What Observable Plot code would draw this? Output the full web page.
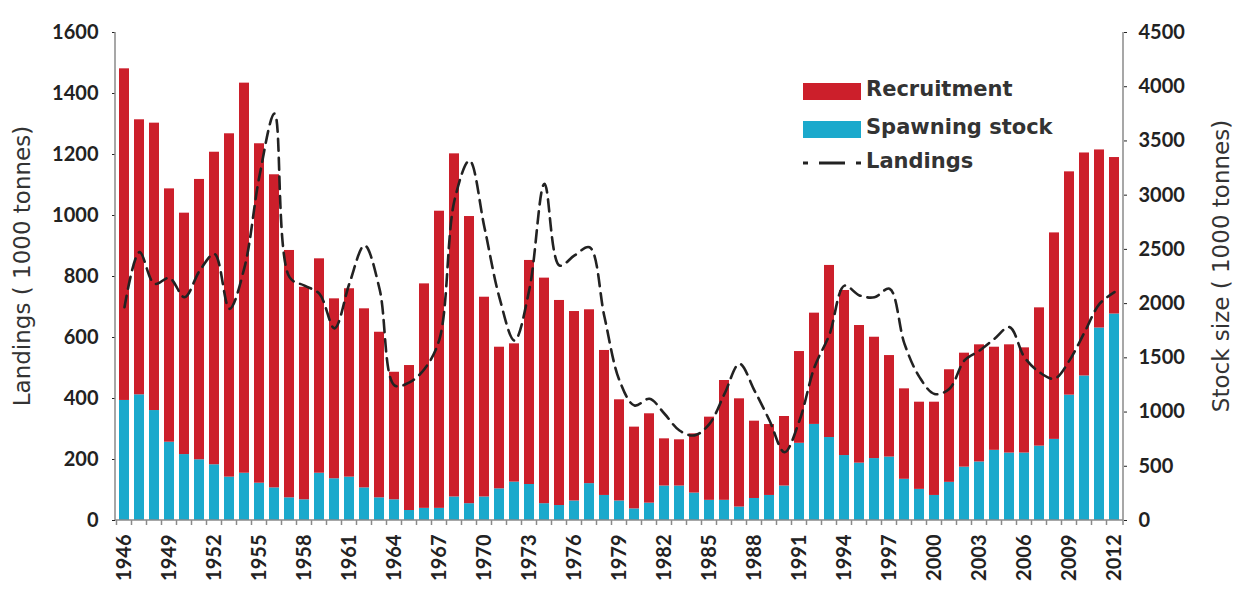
<!DOCTYPE html>
<html><head><meta charset="utf-8">
<script src="https://cdn.jsdelivr.net/npm/d3@7"></script>
<script src="https://cdn.jsdelivr.net/npm/@observablehq/plot@0.6"></script>
<style>
body{margin:0;background:#fff;}
#wrap{position:relative;width:1238px;height:589px;overflow:hidden;}
.lg{position:absolute;font-family:"DejaVu Sans",sans-serif;font-weight:bold;font-size:21px;color:#333;line-height:21px;white-space:nowrap;}
.sw{position:absolute;}
</style></head><body><div id="wrap"></div>
<script>
// Years 1946–2012
const years = d3.range(1946, 2013);
// Spawning stock (1000 tonnes, right axis)
const spawningStock = [1107,1159,1014,722,608,560,514,400,436,344,
  301,209,191,436,385,400,301,209,191,92,
  112,112,217,155,217,292,354,332,155,138,
  180,340,231,180,107,160,318,318,253,186,
  186,124,203,231,318,712,886,765,599,529,
  571,585,380,287,231,352,492,540,647,622,
  622,686,748,1156,1333,1775,1904];
// Recruitment (1000 tonnes, right axis, stacked above spawning stock)
const recruitment = [3058,2536,2650,2336,2226,2585,2882,3166,3597,3130,
  2887,2281,1960,1977,1659,1737,1651,1527,1176,1337,
  2070,2740,3164,2648,1842,1306,1275,2066,2080,1891,
  1747,1603,1337,933,754,824,435,426,546,767,
  1105,998,713,654,641,846,1026,1587,1522,1269,
  1119,936,834,804,860,1038,1051,1080,951,998,
  970,1275,1904,2059,2056,1642,1443];
// Landings (1000 tonnes, left axis)
const landings = [699,880,776,795,732,818,874,694,830,1130,
  1334,798,770,743,630,778,902,760,443,453,
  497,595,1050,1180,960,730,590,760,1104,836,
  869,896,667,459,377,399,350,295,279,317,
  415,514,426,328,224,328,503,610,770,738,
  732,760,579,470,415,432,525,557,596,634,
  535,486,465,525,617,710,749];
const leftTicks = [0,200,400,600,800,1000,1200,1400,1600];
const rightTicks = [0,500,1000,1500,2000,2500,3000,3500,4000,4500];
const yearTicks = years.filter((d,i)=> i % 3 === 0);
const seriesNames = ["Spawning stock","Recruitment"];
const seriesColors = ["#1ba9cc","#cc1f2b"];

const ratio = 4500/1600;
const rows = years.map((y,i)=>({year:y, spawning:spawningStock[i], recruitment:recruitment[i], landings:landings[i]}));
const stacked = rows.flatMap(r=>[
  {year:r.year, series:seriesNames[0], value:r.spawning},
  {year:r.year, series:seriesNames[1], value:r.recruitment}
]);

const plot = Plot.plot({
  width:1238, height:589,
  marginLeft:115, marginRight:115, marginTop:32, marginBottom:69,
  style:{fontFamily:"Lato, sans-serif", fontSize:"20px", fontWeight:"bold", color:"#222", background:"#fff"},
  x:{type:"band", domain:years, paddingInner:0.33, paddingOuter:0.165, label:null},
  y:{domain:[0,4500], label:null},
  color:{domain:seriesNames, range:seriesColors},
  marks:[
    Plot.barY(stacked, {x:"year", y:"value", fill:"series", order:seriesNames}),
    Plot.line(rows, {x:"year", y:d=>d.landings*ratio, stroke:"#222", strokeWidth:2.6, strokeDasharray:"12,7", curve:"catmull-rom"}),
    Plot.axisY({anchor:"right", ticks:rightTicks, tickSize:3, tickPadding:12, label:null, tickFormat:d=>String(d)}),
    Plot.axisY({anchor:"left", ticks:leftTicks.map(d=>d*ratio), tickFormat:d=>String(Math.round(d/ratio)), tickSize:3, tickPadding:14, label:null}),
    Plot.axisX({ticks:yearTicks, tickRotate:-90, tickSize:0, tickPadding:14, label:null, tickFormat:d=>String(d)})
  ]
});

// axis lines and between-category ticks
const svg = d3.select(plot);
const xs = plot.scale("x");
const ys = plot.scale("y");
const yBot = ys.apply(0), yTop = ys.apply(4500);
const xL = xs.range[0], xR = xs.range[1];
const g = svg.append("g").attr("stroke","#8a8a8a").attr("stroke-width",1.5);
g.append("line").attr("x1",xL).attr("x2",xL).attr("y1",yTop).attr("y2",yBot);
g.append("line").attr("x1",xR).attr("x2",xR).attr("y1",yTop).attr("y2",yBot);
g.append("line").attr("x1",xL).attr("x2",xR).attr("y1",yBot).attr("y2",yBot);
const gap = (xs.step - xs.bandwidth)/2;
years.forEach(y=>{
  const bx = xs.apply(y) - gap;
  g.append("line").attr("x1",bx).attr("x2",bx).attr("y1",yBot).attr("y2",yBot+5);
});
g.append("line").attr("x1",xR).attr("x2",xR).attr("y1",yBot).attr("y2",yBot+5);

// axis titles
const tg = svg.append("g").attr("font-family","DejaVu Sans, sans-serif").attr("font-size",23).attr("font-weight","normal").attr("fill","#333").attr("text-anchor","middle");
tg.append("text").attr("transform",`translate(22,${(yTop+yBot)/2 - 10}) rotate(-90)`).attr("dy","0.35em").text("Landings ( 1000 tonnes)");
tg.append("text").attr("transform",`translate(1221,${(yTop+yBot)/2 - 10}) rotate(-90)`).attr("dy","0.35em").text("Stock size ( 1000 tonnes)");

const wrap = document.getElementById("wrap");
wrap.appendChild(plot);

// legend
const legend = [
  {label:"Recruitment", kind:"box", color:seriesColors[1], y:91},
  {label:"Spawning stock", kind:"box", color:seriesColors[0], y:129},
  {label:"Landings", kind:"dash", color:"#222", y:163}
];
legend.forEach(l=>{
  if (l.kind==="box") {
    const s = document.createElement("div");
    s.className="sw";
    s.style.cssText=`left:803px;top:${l.y-8}px;width:58px;height:17px;background:${l.color};`;
    wrap.appendChild(s);
  } else {
    const s = document.createElementNS("http://www.w3.org/2000/svg","svg");
    s.setAttribute("width","60"); s.setAttribute("height","10");
    s.style.cssText=`position:absolute;left:802px;top:${l.y-5}px;`;
    s.innerHTML = `<line x1="1" x2="60" y1="5" y2="5" stroke="${l.color}" stroke-width="3" stroke-dasharray="5,11,26,11,5"/>`;
    wrap.appendChild(s);
  }
  const t = document.createElement("div");
  t.className="lg";
  t.style.left = "866px";
  t.style.top = (l.y-12)+"px";
  t.textContent = l.label;
  wrap.appendChild(t);
});
</script>
</body></html>
